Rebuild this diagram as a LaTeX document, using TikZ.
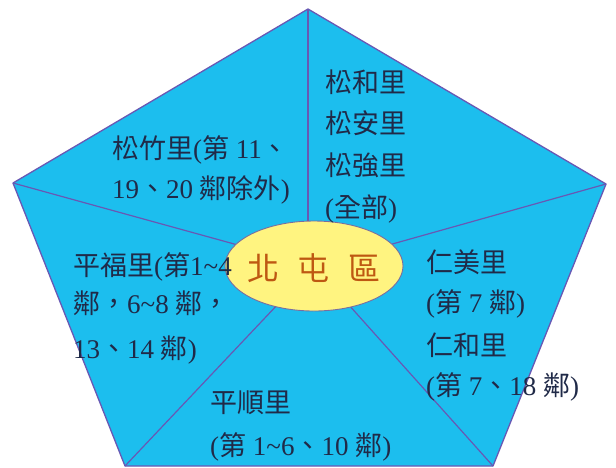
\documentclass[tikz,border=0pt]{standalone}
\usepackage{fontspec}
\usetikzlibrary{shapes.geometric}
\setmainfont{Liberation Serif}
\newfontfamily\cjk{Noto Sans CJK TC}
\newcommand{\C}[1]{{\cjk #1}}
\definecolor{pentfill}{RGB}{28,190,238}
\definecolor{pentline}{RGB}{104,88,180}
\definecolor{ellfill}{RGB}{255,244,128}
\definecolor{ellline}{RGB}{120,110,160}
\definecolor{txt}{RGB}{32,42,72}
\definecolor{ctr}{RGB}{190,88,18}
\begin{document}
\begin{tikzpicture}[x=1pt,y=-1pt,
  lbl/.style={anchor=base west, inner sep=0pt, text=txt, font=\fontsize{27}{32}\selectfont},
  divider/.style={draw=pentline, line width=1.2pt},
  hub/.style={ellipse, draw=ellline, line width=0.9pt, fill=ellfill, minimum width=178pt, minimum height=90pt, inner sep=0pt}
]
\useasboundingbox (0,0) rectangle (616,467);
\fill[white] (0,0) rectangle (616,467);
% pentagon vertices
\coordinate (T) at (308,9);
\coordinate (R) at (606,184);
\coordinate (BR) at (493,466);
\coordinate (BL) at (125,466);
\coordinate (L) at (13,183);
\coordinate (Ctop) at (308,266);
\coordinate (Cen) at (314,266);
\filldraw[fill=pentfill, draw=pentline, line width=1.3pt, line join=round]
  (T) -- (R) -- (BR) -- (BL) -- (L) -- cycle;
\draw[divider] (T) -- (Ctop);
\draw[divider] (R) -- (Cen);
\draw[divider] (BR) -- (Cen);
\draw[divider] (BL) -- (Cen);
\draw[divider] (L) -- (Cen);
\node[hub] (hub) at (Cen) {};
\node[inner sep=0pt, text=ctr, font=\cjk\fontsize{32}{36}\selectfont] (hubtxt) at (314,268)
  {北\hspace{19pt}屯\hspace{19pt}區};
% top-left sector
\node[lbl] (a1) at (112,158) {\C{松竹里}(\C{第} 11\C{、}};
\node[lbl] (a2) at (112,198) {19\C{、}20 \C{鄰除外})};
% top-right sector
\node[lbl] (b1) at (325,92) {\C{松和里}};
\node[lbl] (b2) at (325,133) {\C{松安里}};
\node[lbl] (b3) at (325,175) {\C{松強里}};
\node[lbl] (b4) at (325,217) {(\C{全部})};
% left sector
\node[lbl] (c1) at (73,275) {\C{平福里}(\C{第}1\textasciitilde 4};
\node[lbl] (c2) at (73,313) {\C{鄰，}6\textasciitilde 8 \C{鄰，}};
\node[lbl] (c3) at (73,358) {13\C{、}14 \C{鄰})};
% right sector
\node[lbl] (d1) at (426,272) {\C{仁美里}};
\node[lbl] (d2) at (426,312) {(\C{第} 7 \C{鄰})};
\node[lbl] (d3) at (426,355) {\C{仁和里}};
\node[lbl] (d4) at (426,395) {(\C{第} 7\C{、}18 \C{鄰})};
% bottom sector
\node[lbl] (e1) at (210,412) {\C{平順里}};
\node[lbl] (e2) at (210,455) {(\C{第} 1\textasciitilde 6\C{、}10 \C{鄰})};
\end{tikzpicture}
\end{document}
